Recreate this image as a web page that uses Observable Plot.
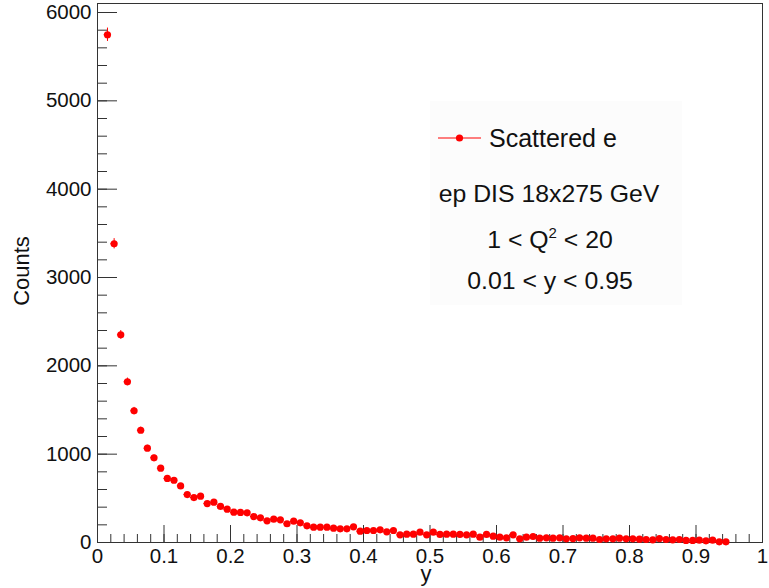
<!DOCTYPE html>
<html>
<head>
<meta charset="utf-8">
<script src="https://cdn.jsdelivr.net/npm/d3@7"></script>
<script src="https://cdn.jsdelivr.net/npm/@observablehq/plot@0.6"></script>
<style>
  body { margin: 0; background: white; }
  #wrap { position: relative; width: 769px; height: 588px; overflow: hidden; }
  #legend { position: absolute; left: 0; top: 0; pointer-events: none; }
  text { font-family: "Liberation Sans", Arial, Helvetica, sans-serif; }
</style>
</head>
<body>
<div id="wrap"></div>
<script>
// Histogram: 94 bins of width 0.01, from y = 0.01 to 0.95
const binStart = 0.01;
const binWidth = 0.01;
const counts = [
  5748, 3382, 2351, 1819, 1491, 1271, 1068, 959, 841, 725,
  705, 641, 543, 509, 524, 441, 456, 408, 377, 343,
  340, 336, 294, 279, 245, 264, 257, 212, 241, 223,
  189, 173, 173, 173, 162, 155, 155, 177, 128, 136,
  136, 143, 121, 136, 87, 94, 94, 117, 87, 117,
  91, 94, 94, 91, 87, 94, 60, 91, 72, 60,
  53, 87, 42, 60, 68, 49, 53, 49, 53, 42,
  45, 53, 49, 49, 34, 42, 42, 49, 42, 42,
  38, 34, 30, 45, 34, 30, 34, 23, 23, 26,
  19, 26, 8, 8
];
const xMajorTicks = [0, 0.1, 0.2, 0.3, 0.4, 0.5, 0.6, 0.7, 0.8, 0.9, 1];
const xMinorTicks = d3.range(0, 51).map(i => i / 50);
const yMajorTicks = [0, 1000, 2000, 3000, 4000, 5000, 6000];
const yMinorTicks = d3.range(0, 31).map(i => i * 200);
const legendLines = ["ep DIS 18x275 GeV", "0.01 < y < 0.95"];

const data = counts.map((c, i) => ({
  x: binStart + binWidth * (i + 0.5),
  lo: binStart + binWidth * i,
  hi: binStart + binWidth * (i + 1),
  c,
  e: Math.sqrt(c)
}));

const W = 769, H = 588, mL = 97, mR = 7, mT = 3, mB = 46;
const plotW = W - mL - mR, plotH = H - mT - mB;
const font = "Liberation Sans, Arial, Helvetica, sans-serif";
const axisColor = "#333";

const chart = Plot.plot({
  width: W, height: H,
  marginLeft: mL, marginRight: mR, marginTop: mT, marginBottom: mB,
  x: { domain: [0, 1] },
  y: { domain: [0, 6102] },
  style: { fontFamily: font, background: "white", color: "black", overflow: "visible" },
  marks: [
    Plot.tickY(yMinorTicks, { y: d => d, insetRight: plotW - 10, stroke: axisColor, strokeWidth: 1 }),
    Plot.tickY(yMajorTicks, { y: d => d, insetRight: plotW - 20, stroke: axisColor, strokeWidth: 1 }),
    Plot.tickX(xMinorTicks, { x: d => d, insetTop: plotH - 8, stroke: axisColor, strokeWidth: 1 }),
    Plot.tickX(xMajorTicks, { x: d => d, insetTop: plotH - 17, stroke: axisColor, strokeWidth: 1 }),
    Plot.frame({ stroke: axisColor, strokeWidth: 1 }),
    Plot.axisY({ ticks: yMajorTicks, tickSize: 0, tickPadding: 6, fontSize: 20.5, label: null, fill: "#111", tickFormat: d => String(d) }),
    Plot.axisX({ ticks: xMajorTicks, tickSize: 0, tickPadding: 6, fontSize: 20.5, label: null, fill: "#111", tickFormat: d => String(d) }),
    Plot.text(["Counts"], { frameAnchor: "left", textAnchor: "middle", dx: -76, dy: -2, rotate: -90, fontSize: 22, fill: "#111" }),
    Plot.text(["y"], { frameAnchor: "bottom", dx: -4, dy: 38, fontSize: 22, fill: "#111" }),
    Plot.ruleX(data, { x: "x", y1: d => d.c - d.e, y2: d => d.c + d.e, stroke: "red", strokeWidth: 1 }),
    Plot.ruleY(data, { y: "c", x1: "lo", x2: "hi", stroke: "red", strokeWidth: 1 }),
    Plot.dot(data, { x: "x", y: "c", r: 3.6, fill: "red", stroke: "none" })
  ]
});

const wrap = document.getElementById("wrap");
wrap.appendChild(chart);

// Legend overlay
const ns = "http://www.w3.org/2000/svg";
const leg = document.createElementNS(ns, "svg");
leg.setAttribute("id", "legend");
leg.setAttribute("width", W);
leg.setAttribute("height", H);
leg.innerHTML = `
  <rect x="430" y="101" width="252" height="204" fill="#fcfcfc"/>
  <line x1="438" x2="481" y1="138" y2="138" stroke="red" stroke-width="1"/>
  <circle cx="459.5" cy="138" r="3.6" fill="red"/>
  <text x="489" y="147" font-size="25" fill="#111">Scattered e</text>
  <text x="549" y="202" font-size="24.8" text-anchor="middle" fill="#111">${legendLines[0]}</text>
  <text x="550" y="248" font-size="24.8" text-anchor="middle" fill="#111">1 &lt; Q<tspan font-size="15" dy="-10">2</tspan><tspan dy="10"> &lt; 20</tspan></text>
  <text x="550" y="289" font-size="24.8" text-anchor="middle" fill="#111">${legendLines[1].replace(/</g, "&lt;")}</text>
`;
wrap.appendChild(leg);
</script>
</body>
</html>
